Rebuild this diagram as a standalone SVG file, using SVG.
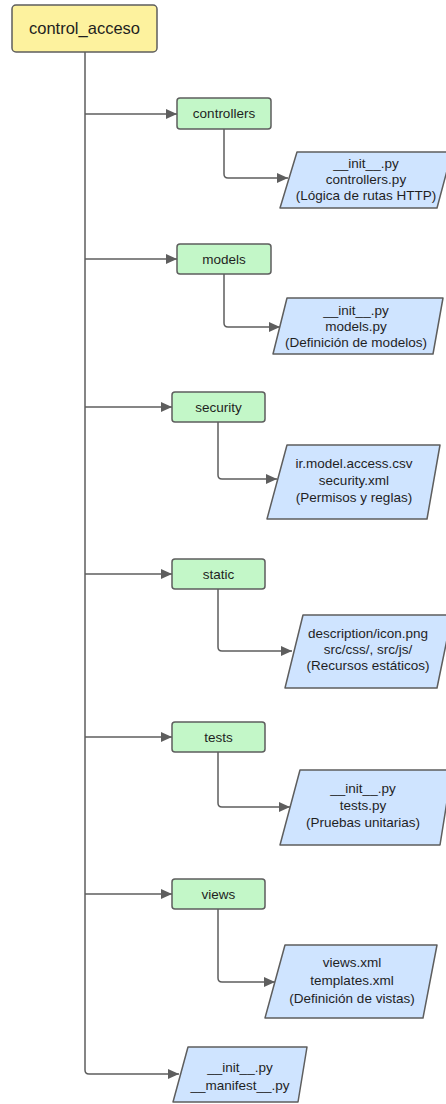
<svg xmlns="http://www.w3.org/2000/svg" width="446" height="1104" viewBox="0 0 446 1104">
  <style>
    .root { fill: #fdf29e; stroke: #5e5e5e; stroke-width: 1.5; }
    .dir { fill: #c3f7c8; stroke: #5e5e5e; stroke-width: 1.5; }
    .file { fill: #cfe4ff; stroke: #5e5e5e; stroke-width: 1.5; stroke-linejoin: round; }
    .lbl { font-family: "Liberation Sans", Arial, sans-serif; font-size: 13.5px; fill: #1f1f1f; text-anchor: middle; }
    .big { font-size: 16.5px; }
    .edge { fill: none; stroke: #5e5e5e; stroke-width: 1.5; }
  </style>
  <defs>
    <marker id="arrow" markerUnits="userSpaceOnUse" markerWidth="12" markerHeight="10" refX="11" refY="5" orient="auto">
      <path d="M0,0 L11,5 L0,10 Z" fill="#5e5e5e"/>
    </marker>
  </defs>

  <!-- connectors -->
  <g id="connectors">
    <!-- trunk down to the module files -->
    <path class="edge" d="M85,52 V1070 Q85,1074 89,1074 H179" marker-end="url(#arrow)"/>
    <!-- trunk to folders -->
    <path class="edge" d="M85,114 H177" marker-end="url(#arrow)"/>
    <path class="edge" d="M85,259 H177" marker-end="url(#arrow)"/>
    <path class="edge" d="M85,407 H172" marker-end="url(#arrow)"/>
    <path class="edge" d="M85,574 H172" marker-end="url(#arrow)"/>
    <path class="edge" d="M85,737 H172" marker-end="url(#arrow)"/>
    <path class="edge" d="M85,894 H172" marker-end="url(#arrow)"/>
    <!-- folders to their files -->
    <path class="edge" d="M224,129 V174 Q224,178 228,178 H288" marker-end="url(#arrow)"/>
    <path class="edge" d="M224,274 V323 Q224,327 228,327 H280" marker-end="url(#arrow)"/>
    <path class="edge" d="M218,422 V475 Q218,479 222,479 H277" marker-end="url(#arrow)"/>
    <path class="edge" d="M218,589 V647 Q218,651 222,651 H292" marker-end="url(#arrow)"/>
    <path class="edge" d="M218,752 V803 Q218,807 222,807 H290" marker-end="url(#arrow)"/>
    <path class="edge" d="M218,909 V978 Q218,982 222,982 H275" marker-end="url(#arrow)"/>
  </g>

  <!-- module root -->
  <g id="control_acceso">
    <rect class="root" x="12" y="5" width="145" height="47" rx="4"/>
    <text class="lbl big" x="84.5" y="34">control_acceso</text>
  </g>

  <!-- folders -->
  <g id="controllers">
    <rect class="dir" x="177" y="98" width="94" height="31" rx="3"/>
    <text class="lbl" x="224" y="118">controllers</text>
  </g>
  <g id="models">
    <rect class="dir" x="177" y="244" width="94" height="30" rx="3"/>
    <text class="lbl" x="224" y="263.5">models</text>
  </g>
  <g id="security">
    <rect class="dir" x="172" y="392" width="93" height="30" rx="3"/>
    <text class="lbl" x="218.5" y="411.5">security</text>
  </g>
  <g id="static">
    <rect class="dir" x="172" y="559" width="93" height="30" rx="3"/>
    <text class="lbl" x="218.5" y="578.5">static</text>
  </g>
  <g id="tests">
    <rect class="dir" x="172" y="722" width="93" height="30" rx="3"/>
    <text class="lbl" x="218.5" y="741.5">tests</text>
  </g>
  <g id="views">
    <rect class="dir" x="172" y="879" width="93" height="30" rx="3"/>
    <text class="lbl" x="218.5" y="898.5">views</text>
  </g>

  <!-- file groups -->
  <g id="controllers_files">
    <polygon class="file" points="297,152 452,152 437,208 280,208"/>
    <text class="lbl" x="366" y="168">__init__.py</text>
    <text class="lbl" x="366" y="184">controllers.py</text>
    <text class="lbl" x="366" y="200">(Lógica de rutas HTTP)</text>
  </g>
  <g id="models_files">
    <polygon class="file" points="287,298 443,298 433,354 273,354"/>
    <text class="lbl" x="356" y="315">__init__.py</text>
    <text class="lbl" x="356" y="331">models.py</text>
    <text class="lbl" x="356" y="347">(Definición de modelos)</text>
  </g>
  <g id="security_files">
    <polygon class="file" points="287,445 440,445 427,519 267,519"/>
    <text class="lbl" x="354" y="468">ir.model.access.csv</text>
    <text class="lbl" x="354" y="485">security.xml</text>
    <text class="lbl" x="354" y="502">(Permisos y reglas)</text>
  </g>
  <g id="static_files">
    <polygon class="file" points="303,615 452,615 437,688 285,688"/>
    <text class="lbl" x="368" y="638">description/icon.png</text>
    <text class="lbl" x="368" y="654">src/css/, src/js/</text>
    <text class="lbl" x="368" y="670">(Recursos estáticos)</text>
  </g>
  <g id="tests_files">
    <polygon class="file" points="300,770 452,770 440,845 280,845"/>
    <text class="lbl" x="363" y="793">__init__.py</text>
    <text class="lbl" x="363" y="810">tests.py</text>
    <text class="lbl" x="363" y="827">(Pruebas unitarias)</text>
  </g>
  <g id="views_files">
    <polygon class="file" points="285,945 437,945 423,1018 265,1018"/>
    <text class="lbl" x="352" y="967">views.xml</text>
    <text class="lbl" x="352" y="985">templates.xml</text>
    <text class="lbl" x="352" y="1003">(Definición de vistas)</text>
  </g>
  <g id="module_files">
    <polygon class="file" points="188,1047 307,1047 298,1102 173,1102"/>
    <text class="lbl" x="240" y="1072">__init__.py</text>
    <text class="lbl" x="240" y="1090">__manifest__.py</text>
  </g>
</svg>
